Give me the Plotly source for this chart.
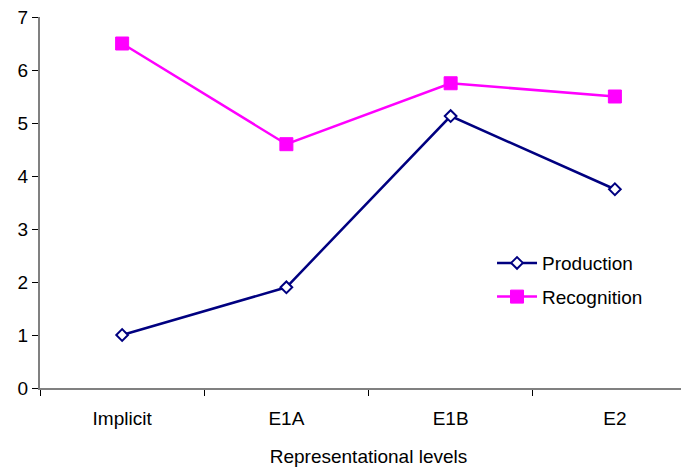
import plotly.graph_objects as go

categories = ["Implicit", "E1A", "E1B", "E2"]
production = [1.0, 1.9, 5.13, 3.75]
recognition = [6.5, 4.6, 5.75, 5.5]
y_ticks = [0, 1, 2, 3, 4, 5, 6, 7]

font = "Liberation Sans, Arial, sans-serif"

fig = go.Figure()
fig.add_trace(go.Scatter(
    x=categories, y=production, name="Production", mode="lines+markers",
    legendgroup="a",
    line=dict(color="#000080", width=2.5),
    marker=dict(symbol="diamond", size=9, color="white",
                line=dict(color="#000080", width=2)),
))
fig.add_trace(go.Scatter(
    x=categories, y=recognition, name="Recognition", mode="lines+markers",
    legendgroup="b",
    line=dict(color="#FF00FF", width=2.5),
    marker=dict(symbol="square", size=13, color="#FF00FF",
                line=dict(color="#FF00FF", width=1)),
))

fig.update_layout(
    width=689, height=471,
    margin=dict(l=32, r=0, t=9, b=91, autoexpand=False),
    paper_bgcolor="white", plot_bgcolor="white",
    font=dict(family=font, size=19, color="black"),
    showlegend=True,
    legend=dict(x=0.688, y=0.388, xanchor="left", yanchor="top",
                bgcolor="rgba(0,0,0,0)", font=dict(size=19),
                traceorder="grouped", tracegroupgap=6, itemwidth=40),
    xaxis=dict(
        type="category", categoryorder="array", categoryarray=categories,
        range=[-0.5, 3.5], tickson="boundaries",
        ticks="outside", ticklen=6, tickcolor="black", tickwidth=1,
        ticklabelstandoff=12,
        showline=True, linecolor="#808080", linewidth=2,
        showgrid=False, zeroline=False,
        title=dict(text="Representational levels", standoff=22, font=dict(size=19)),
    ),
    yaxis=dict(
        range=[0, 7], tickvals=y_ticks,
        ticks="outside", ticklen=6, tickcolor="black", tickwidth=1,
        ticklabeloverflow="allow",
        showline=True, linecolor="#808080", linewidth=2,
        showgrid=False, zeroline=False,
    ),
)

fig.write_html("out.html")
